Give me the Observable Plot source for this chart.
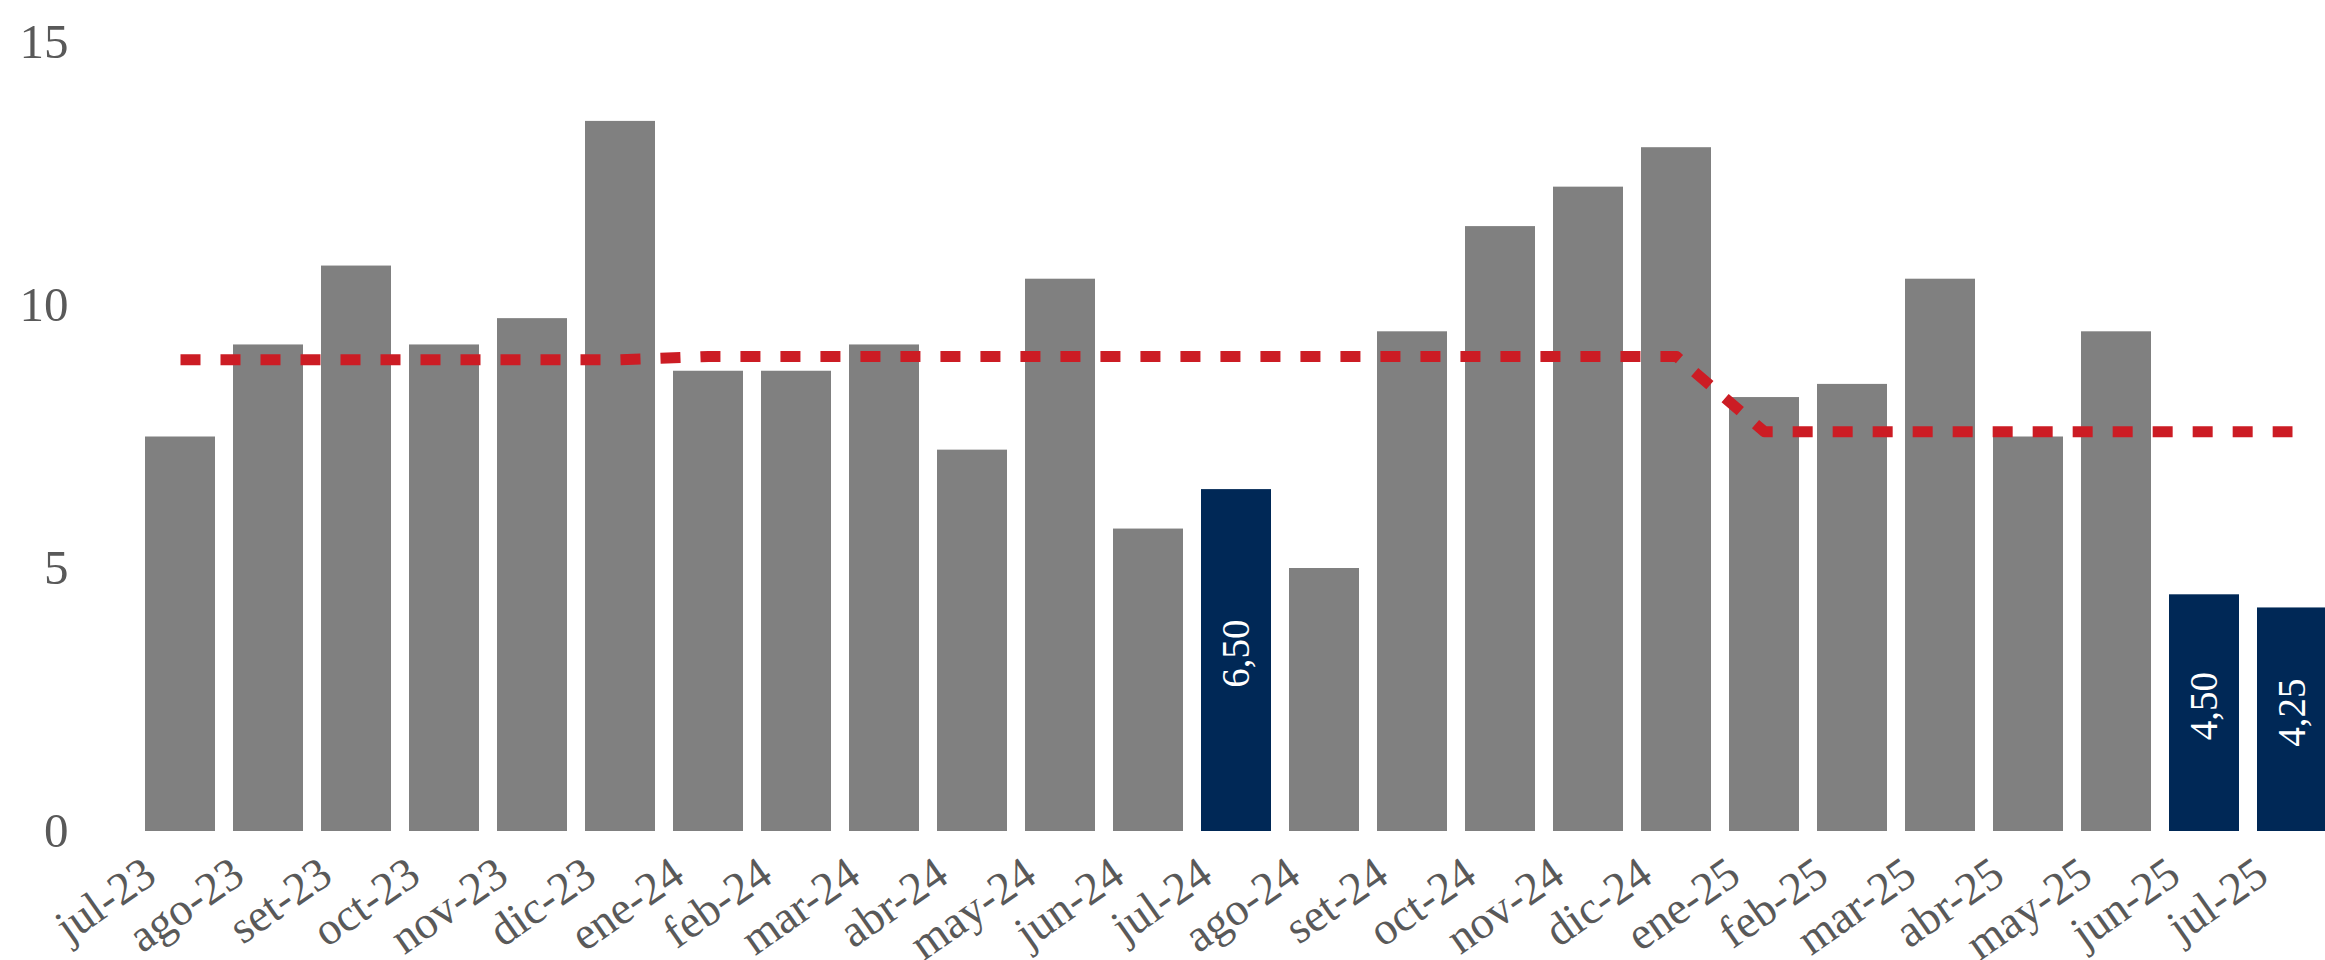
<!DOCTYPE html>
<html>
<head>
<meta charset="utf-8">
<script src="https://cdn.jsdelivr.net/npm/d3@7"></script>
<script src="https://cdn.jsdelivr.net/npm/@observablehq/plot@0.6"></script>
<style>
  html, body { margin: 0; padding: 0; background: #fff; overflow: hidden; }
  svg text { font-family: "Liberation Serif", serif; }
</style>
</head>
<body>
<div id="chart"></div>
<script>
const months = ["jul-23","ago-23","set-23","oct-23","nov-23","dic-23","ene-24","feb-24","mar-24","abr-24","may-24","jun-24","jul-24","ago-24","set-24","oct-24","nov-24","dic-24","ene-25","feb-25","mar-25","abr-25","may-25","jun-25","jul-25"];
const values = [7.5, 9.25, 10.75, 9.25, 9.75, 13.5, 8.75, 8.75, 9.25, 7.25, 10.5, 5.75, 6.5, 5.0, 9.5, 11.5, 12.25, 13.0, 8.25, 8.5, 10.5, 7.5, 9.5, 4.5, 4.25];
const reference = [8.97, 8.97, 8.97, 8.97, 8.97, 8.97, 9.03, 9.03, 9.03, 9.03, 9.03, 9.03, 9.03, 9.03, 9.03, 9.03, 9.03, 9.03, 7.6, 7.6, 7.6, 7.6, 7.6, 7.6, 7.6];
const highlighted = ["jul-24", "jun-25", "jul-25"];
const yTicks = [0, 5, 10, 15];

const data = months.map((m, i) => ({
  month: m,
  value: values[i],
  ref: reference[i],
  hi: highlighted.includes(m)
}));
const labelled = data.filter(d => d.hi);
const fmt = v => v.toFixed(2).replace(".", ",");

const font = "Liberation Serif";

const chart = Plot.plot({
  width: 2325,
  height: 960,
  marginLeft: 135,
  marginRight: -13,
  marginTop: 42,
  marginBottom: 129,
  style: { fontFamily: font, background: "#fff", color: "#595959" },
  x: { domain: months, paddingInner: 0.2, paddingOuter: 0.1, label: null },
  y: { domain: [0, 15], label: null },
  marks: [
    Plot.barY(data, { x: "month", y: "value", fill: d => d.hi ? "#002856" : "#808080" }),
    Plot.line(data, { x: "month", y: "ref", stroke: "#CC1C24", strokeWidth: 11, strokeDasharray: "20,20", strokeLinecap: "butt" }),
    Plot.text(labelled, { x: "month", y: d => d.value / 2, text: d => fmt(d.value), rotate: -90, fill: "white", fontSize: 39, fontFamily: font, dy: -7 }),
    Plot.axisY({ ticks: yTicks, tickSize: 0, tickPadding: 67, fontSize: 49, fontFamily: font, tickFormat: d => String(d), fill: "#595959" }),
    Plot.axisX({ tickRotate: -35, tickSize: 0, tickPadding: 37, dx: -30, fontSize: 46, fontFamily: font, fill: "#595959" })
  ]
});
document.getElementById("chart").appendChild(chart);
</script>
</body>
</html>
